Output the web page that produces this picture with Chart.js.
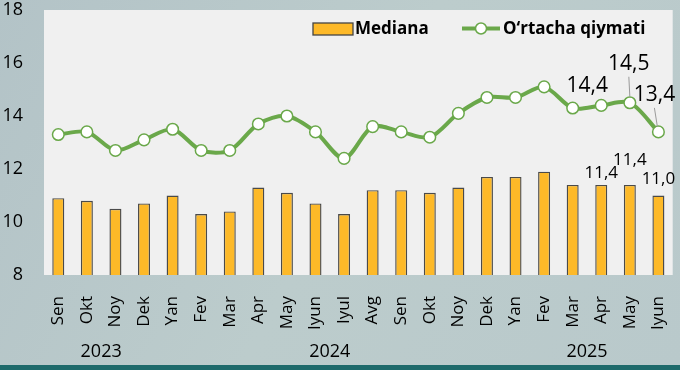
<!DOCTYPE html>
<html>
<head>
<meta charset="utf-8">
<script src="https://cdn.jsdelivr.net/npm/chart.js@4/dist/chart.umd.min.js"></script>
<style>
  html, body { margin: 0; padding: 0; background: #b6c6ca; }
  canvas { display: block; }
</style>
</head>
<body>
<canvas id="chart" width="680" height="370"></canvas>
<script>
// data
const months = ['Sen', 'Okt', 'Noy', 'Dek', 'Yan', 'Fev', 'Mar', 'Apr', 'May', 'Iyun', 'Iyul',
    'Avg', 'Sen', 'Okt', 'Noy', 'Dek', 'Yan', 'Fev', 'Mar', 'Apr', 'May', 'Iyun'];
const median = [10.9, 10.8, 10.5, 10.7, 11.0, 10.3, 10.4, 11.3, 11.1, 10.7, 10.3,
    11.2, 11.2, 11.1, 11.3, 11.7, 11.7, 11.9, 11.4, 11.4, 11.4, 11.0];
const mean = [13.3, 13.4, 12.7, 13.1, 13.5, 12.7, 12.7, 13.7, 14.0, 13.4, 12.4,
    13.6, 13.4, 13.2, 14.1, 14.7, 14.7, 15.1, 14.3, 14.4, 14.5, 13.4];
const years = ['2023', '2024', '2025'];
const yearFirst = [0, 4, 16];
const yearLast = [3, 15, 21];
const yTicks = [8, 10, 12, 14, 16, 18];

const FONT = '"Open Sans", "DejaVu Sans", sans-serif';
const GREEN = '#6aa84a';
const GOLD = '#fdb928';

const fmt = v => v.toFixed(1).replace('.', ',');

// which points get a value label, and where it sits relative to the mark
const lineLabels = [
    { i: 19, dx: -14, dy: -19 },
    { i: 20, dx: -1, dy: -39, lead: [-1, -26, 0, -6] },
    { i: 21, dx: -4, dy: -37, lead: [-4, -24, -1, -5] },
];
const barLabels = [
    { i: 19, dy: -12 },
    { i: 20, dy: -25 },
    { i: 21, dy: -16 },
];

const backdrop = {
    id: 'backdrop',
    beforeDraw(chart) {
        const { ctx, width, height, chartArea: a } = chart;
        ctx.save();
        const g = ctx.createLinearGradient(0, 0, width, height);
        g.addColorStop(0, '#b3c3c7');
        g.addColorStop(0.5, '#bccccc');
        g.addColorStop(1, '#b9c9cb');
        ctx.fillStyle = g;
        ctx.fillRect(0, 0, width, height);
        ctx.fillStyle = '#1e6a6b';
        ctx.fillRect(0, 365, width, height - 365);
        ctx.fillStyle = '#f0f0f0';
        ctx.fillRect(a.left, a.top, a.right - a.left, a.bottom - a.top);
        ctx.restore();
    }
};

const extras = {
    id: 'extras',
    afterDraw(chart) {
        const { ctx } = chart;
        const x = chart.scales.x;
        ctx.save();

        // year row under the month labels
        ctx.fillStyle = '#000';
        ctx.font = '18px ' + FONT;
        ctx.textAlign = 'center';
        ctx.textBaseline = 'middle';
        years.forEach((y, k) => {
            const cx = (x.getPixelForValue(yearFirst[k]) + x.getPixelForValue(yearLast[k])) / 2;
            ctx.fillText(y, cx, 352);
        });

        // value labels on the last three points
        const linePts = chart.getDatasetMeta(1).data;
        lineLabels.forEach(l => {
            const p = linePts[l.i];
            if (l.lead) {
                ctx.strokeStyle = '#9a9a9a';
                ctx.lineWidth = 1;
                ctx.beginPath();
                ctx.moveTo(p.x + l.lead[0], p.y + l.lead[1]);
                ctx.lineTo(p.x + l.lead[2], p.y + l.lead[3]);
                ctx.stroke();
            }
            ctx.fillStyle = '#000';
            ctx.font = '21px ' + FONT;
            ctx.fillText(fmt(mean[l.i]), p.x + l.dx, p.y + l.dy);
        });
        const bars = chart.getDatasetMeta(0).data;
        ctx.font = '17px ' + FONT;
        barLabels.forEach(l => {
            const b = bars[l.i];
            ctx.fillText(fmt(median[l.i]), b.x, b.y + l.dy);
        });

        // legend
        ctx.textAlign = 'left';
        ctx.font = 'bold 17px ' + FONT;
        ctx.fillStyle = GOLD;
        ctx.fillRect(313, 23, 40, 12);
        ctx.strokeStyle = '#444';
        ctx.lineWidth = 1.3;
        ctx.strokeRect(313, 23, 40, 12);
        ctx.fillStyle = '#000';
        ctx.fillText(chart.data.datasets[0].label, 355, 29);

        ctx.strokeStyle = GREEN;
        ctx.lineWidth = 4;
        ctx.beginPath();
        ctx.moveTo(462, 28.5);
        ctx.lineTo(500, 28.5);
        ctx.stroke();
        ctx.beginPath();
        ctx.arc(481, 28.5, 5.5, 0, Math.PI * 2);
        ctx.fillStyle = '#fff';
        ctx.fill();
        ctx.lineWidth = 1.5;
        ctx.stroke();
        ctx.fillStyle = '#000';
        ctx.fillText(chart.data.datasets[1].label, 503, 29);
        ctx.restore();
    }
};

new Chart(document.getElementById('chart'), {
    data: {
        labels: months,
        datasets: [
            {
                type: 'bar',
                label: 'Mediana',
                data: median,
                backgroundColor: GOLD,
                borderColor: '#4a4a4a',
                borderWidth: 1.4,
                barPercentage: 0.84,
                categoryPercentage: 0.5,
                order: 2,
            },
            {
                type: 'line',
                label: 'O\u2018rtacha qiymati',
                data: mean,
                borderColor: GREEN,
                borderWidth: 4,
                tension: 0.3,
                pointRadius: 5.8,
                pointBorderWidth: 1.5,
                pointBackgroundColor: '#fff',
                pointBorderColor: GREEN,
                order: 1,
            },
        ]
    },
    options: {
        responsive: false,
        animation: false,
        layout: { padding: { top: 10, right: 7, left: 0, bottom: 0 } },
        plugins: {
            legend: { display: false },
            tooltip: { enabled: false },
        },
        scales: {
            x: {
                offset: true,
                grid: { display: false },
                border: { display: false },
                ticks: {
                    autoSkip: false,
                    minRotation: 90,
                    maxRotation: 90,
                    padding: 13,
                    color: '#000',
                    font: { family: FONT, size: 17 },
                },
                afterFit(s) { s.height = 95; s.paddingLeft = 0; s.paddingRight = 0; },
            },
            y: {
                min: 8,
                max: 18,
                afterBuildTicks(s) { s.ticks = yTicks.map(v => ({ value: v })); },
                grid: { display: false, drawTicks: false },
                border: { display: false },
                ticks: {
                    padding: 21,
                    color: '#000',
                    font: { family: FONT, size: 18 },
                },
                afterFit(s) { s.width = 44; s.paddingTop = 0; s.paddingBottom = 0; },
            },
        },
    },
    plugins: [backdrop, extras],
});
</script>
</body>
</html>
